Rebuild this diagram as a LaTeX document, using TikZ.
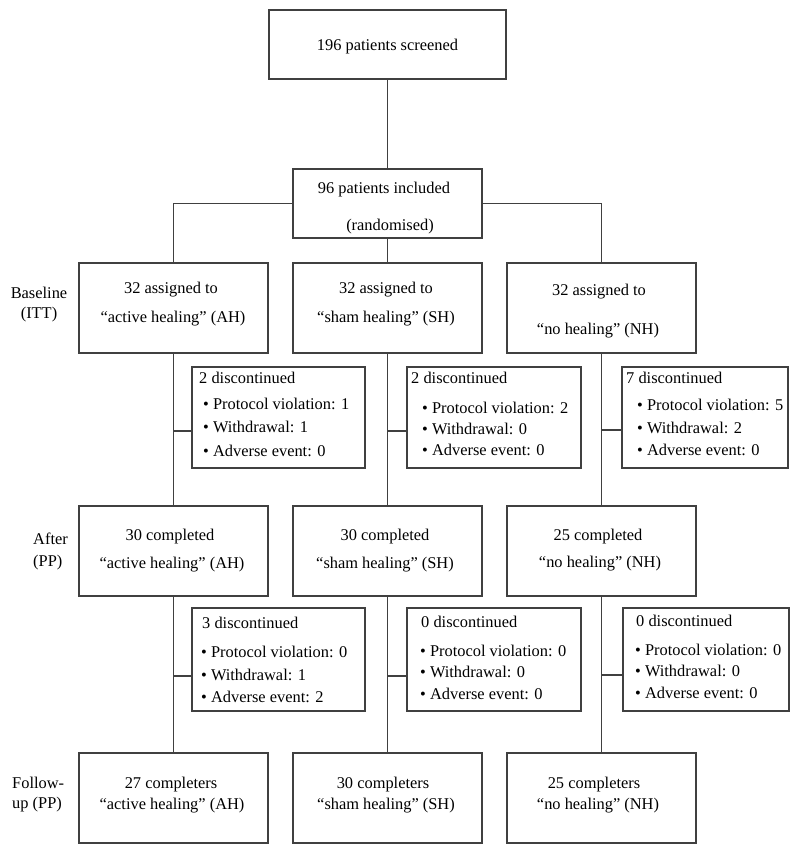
\documentclass[tikz,border=0pt]{standalone}
\usepackage{fontspec}
\setmainfont{Liberation Serif}
\begin{document}
\begin{tikzpicture}[x=1pt,y=-1pt,
  box/.style={draw=black!75, line width=1.1pt, inner sep=0pt},
  colbox/.style={box, minimum width=189pt, minimum height=90pt},
  txt/.style={anchor=base, inner sep=0pt, font=\fontsize{16.4}{19}\selectfont},
  ltxt/.style={anchor=base west, inner sep=0pt, font=\fontsize{16.4}{19}\selectfont},
  conn/.style={draw=black!75, line width=1.1pt}]
\useasboundingbox (0,0) rectangle (799,854);

% main boxes
\node[box, minimum width=237pt, minimum height=69pt] (top) at (387.5,44.5) {};
\node[box, minimum width=189pt, minimum height=69pt] (inc) at (387.5,203.5) {};
\node[colbox] (a1) at (173.5,308) {};
\node[colbox] (b1) at (387.5,308) {};
\node[colbox] (c1) at (601.5,308) {};
\node[colbox] (a2) at (173.5,551) {};
\node[colbox] (b2) at (387.5,551) {};
\node[colbox] (c2) at (601.5,551) {};
\node[colbox] (a3) at (173.5,798) {};
\node[colbox] (b3) at (387.5,798) {};
\node[colbox] (c3) at (601.5,798) {};

% discontinued boxes
\node[box, minimum width=173pt, minimum height=101pt] (da1) at (278.5,417.5) {};
\node[box, minimum width=174pt, minimum height=101pt] (db1) at (494,417.5) {};
\node[box, minimum width=166pt, minimum height=101pt] (dc1) at (705,417.5) {};
\node[box, minimum width=173pt, minimum height=103pt] (da2) at (278.5,659.5) {};
\node[box, minimum width=174pt, minimum height=103pt] (db2) at (494,659.5) {};
\node[box, minimum width=166pt, minimum height=103pt] (dc2) at (706,659.5) {};

% texts in main boxes
\node[txt] (ttop) at (387.5,50) {196 patients screened};
\node[txt] (tinc1) at (384,193) {96 patients included};
\node[txt] (tinc2) at (390,230) {(randomised)};
\node[txt] (ta1a) at (171,293) {32 assigned to};
\node[txt] (ta1b) at (173,322) {“active healing” (AH)};
\node[txt] (tb1a) at (386,293) {32 assigned to};
\node[txt] (tb1b) at (386,322) {“sham healing” (SH)};
\node[txt] (tc1a) at (599,295) {32 assigned to};
\node[txt] (tc1b) at (598,334) {“no healing” (NH)};
\node[txt] (ta2a) at (170,540) {30 completed};
\node[txt] (ta2b) at (172,568) {“active healing” (AH)};
\node[txt] (tb2a) at (385,540) {30 completed};
\node[txt] (tb2b) at (385,568) {“sham healing” (SH)};
\node[txt] (tc2a) at (598,540) {25 completed};
\node[txt] (tc2b) at (600,567) {“no healing” (NH)};
\node[txt] (ta3a) at (171,788) {27 completers};
\node[txt] (ta3b) at (172,809) {“active healing” (AH)};
\node[txt] (tb3a) at (383,788) {30 completers};
\node[txt] (tb3b) at (386,809) {“sham healing” (SH)};
\node[txt] (tc3a) at (594,788) {25 completers};
\node[txt] (tc3b) at (598,809) {“no healing” (NH)};

% texts in discontinued boxes
\node[ltxt] (da1h) at (199,383) {2 discontinued};
\node[ltxt] (da1p) at (203,409) {\textbullet\ Protocol violation: 1};
\node[ltxt] (da1w) at (203,432) {\textbullet\ Withdrawal: 1};
\node[ltxt] (da1e) at (203,456) {\textbullet\ Adverse event: 0};
\node[ltxt] (db1h) at (411,383) {2 discontinued};
\node[ltxt] (db1p) at (422,413) {\textbullet\ Protocol violation: 2};
\node[ltxt] (db1w) at (422,434) {\textbullet\ Withdrawal: 0};
\node[ltxt] (db1e) at (422,455) {\textbullet\ Adverse event: 0};
\node[ltxt] (dc1h) at (626,383) {7 discontinued};
\node[ltxt] (dc1p) at (637,410) {\textbullet\ Protocol violation: 5};
\node[ltxt] (dc1w) at (637,433) {\textbullet\ Withdrawal: 2};
\node[ltxt] (dc1e) at (637,455) {\textbullet\ Adverse event: 0};
\node[ltxt] (da2h) at (202,628) {3 discontinued};
\node[ltxt] (da2p) at (201,657) {\textbullet\ Protocol violation: 0};
\node[ltxt] (da2w) at (201,680) {\textbullet\ Withdrawal: 1};
\node[ltxt] (da2e) at (201,702) {\textbullet\ Adverse event: 2};
\node[ltxt] (db2h) at (421,627) {0 discontinued};
\node[ltxt] (db2p) at (420,656) {\textbullet\ Protocol violation: 0};
\node[ltxt] (db2w) at (420,677) {\textbullet\ Withdrawal: 0};
\node[ltxt] (db2e) at (420,699) {\textbullet\ Adverse event: 0};
\node[ltxt] (dc2h) at (636,626) {0 discontinued};
\node[ltxt] (dc2p) at (635,655) {\textbullet\ Protocol violation: 0};
\node[ltxt] (dc2w) at (635,676) {\textbullet\ Withdrawal: 0};
\node[ltxt] (dc2e) at (635,698) {\textbullet\ Adverse event: 0};

% side labels
\node[txt] (lb1) at (39,298) {Baseline};
\node[txt] (lb2) at (39,318) {(ITT)};
\node[ltxt] (la1) at (33,544) {After};
\node[ltxt] (la2) at (33,566) {(PP)};
\node[ltxt] (lf1) at (12,788) {Follow-};
\node[ltxt] (lf2) at (12,808) {up (PP)};

% connectors
\draw[conn] (top.south) -- (inc.north);
\draw[conn] (inc.west) -- (inc.west -| a1.north) -- (a1.north);
\draw[conn] (inc.east) -- (inc.east -| c1.north) -- (c1.north);
\draw[conn] (inc.south) -- (b1.north);
\draw[conn] (a1.south) -- (a2.north);
\draw[conn] (b1.south) -- (b2.north);
\draw[conn] (c1.south) -- (c2.north);
\draw[conn] (a2.south) -- (a3.north);
\draw[conn] (b2.south) -- (b3.north);
\draw[conn] (c2.south) -- (c3.north);
\coordinate (sa1) at (173.5,431);
\coordinate (sb1) at (387.5,431);
\coordinate (sc1) at (601.5,430);
\coordinate (sa2) at (173.5,676);
\coordinate (sb2) at (387.5,676);
\coordinate (sc2) at (601.5,675);
\draw[conn] (sa1) -- (sa1 -| da1.west);
\draw[conn] (sb1) -- (sb1 -| db1.west);
\draw[conn] (sc1) -- (sc1 -| dc1.west);
\draw[conn] (sa2) -- (sa2 -| da2.west);
\draw[conn] (sb2) -- (sb2 -| db2.west);
\draw[conn] (sc2) -- (sc2 -| dc2.west);
\end{tikzpicture}
\end{document}
